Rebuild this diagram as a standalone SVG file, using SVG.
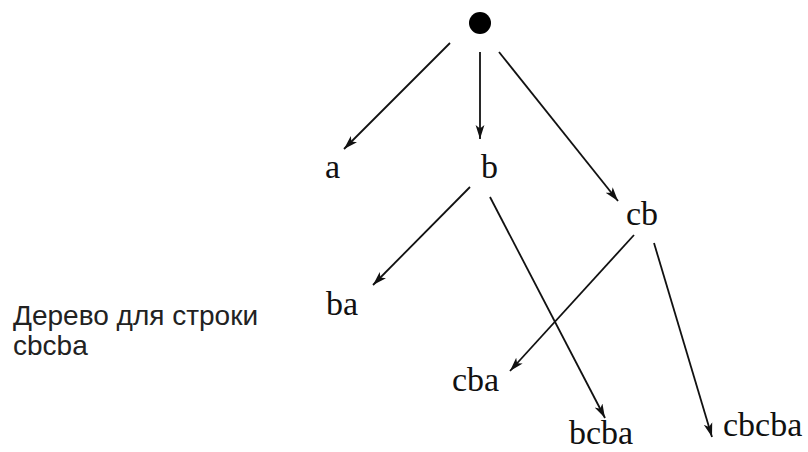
<svg xmlns="http://www.w3.org/2000/svg" width="808" height="452" viewBox="0 0 808 452">
  <defs>
    <marker id="arrow" markerUnits="userSpaceOnUse" markerWidth="16" markerHeight="10" refX="14" refY="5" orient="auto">
      <path d="M0,0.6 L14,5 L0,9.4 L3.5,5 Z" fill="#111"/>
    </marker>
    <style>
      .edge { stroke: #111; stroke-width: 1.8; fill: none; marker-end: url(#arrow); }
      .lbl { font-family: "Liberation Serif", "Times New Roman", serif; font-size: 34px; fill: #111; }
      .cap { font-family: "Liberation Sans", Arial, sans-serif; font-size: 28px; fill: #222; }
    </style>
  </defs>
  <rect width="808" height="452" fill="#fff"/>

  <!-- connectors -->
  <g id="edges">
    <line class="edge" x1="450" y1="43" x2="344" y2="149"/>
    <line class="edge" x1="480" y1="52" x2="480" y2="139"/>
    <line class="edge" x1="499" y1="52" x2="618" y2="201"/>
    <line class="edge" x1="470" y1="187" x2="373" y2="285"/>
    <line class="edge" x1="490" y1="197" x2="605" y2="418"/>
    <line class="edge" x1="634" y1="235" x2="510" y2="371"/>
    <line class="edge" x1="654" y1="243" x2="712" y2="437"/>
  </g>

  <!-- nodes -->
  <g id="root"><circle cx="480" cy="23" r="11" fill="#000"/></g>
  <g id="n-a"><text class="lbl" x="325" y="178">a</text></g>
  <g id="n-b"><text class="lbl" x="481" y="178">b</text></g>
  <g id="n-cb"><text class="lbl" x="626" y="225">cb</text></g>
  <g id="n-ba"><text class="lbl" x="326" y="315">ba</text></g>
  <g id="n-cba"><text class="lbl" x="452" y="391">cba</text></g>
  <g id="n-bcba"><text class="lbl" x="569" y="444">bcba</text></g>
  <g id="n-cbcba"><text class="lbl" x="723" y="436">cbcba</text></g>

  <!-- caption -->
  <g id="caption">
    <text class="cap" x="13" y="325">Дерево для строки</text>
    <text class="cap" x="13" y="355">cbcba</text>
  </g>
</svg>
